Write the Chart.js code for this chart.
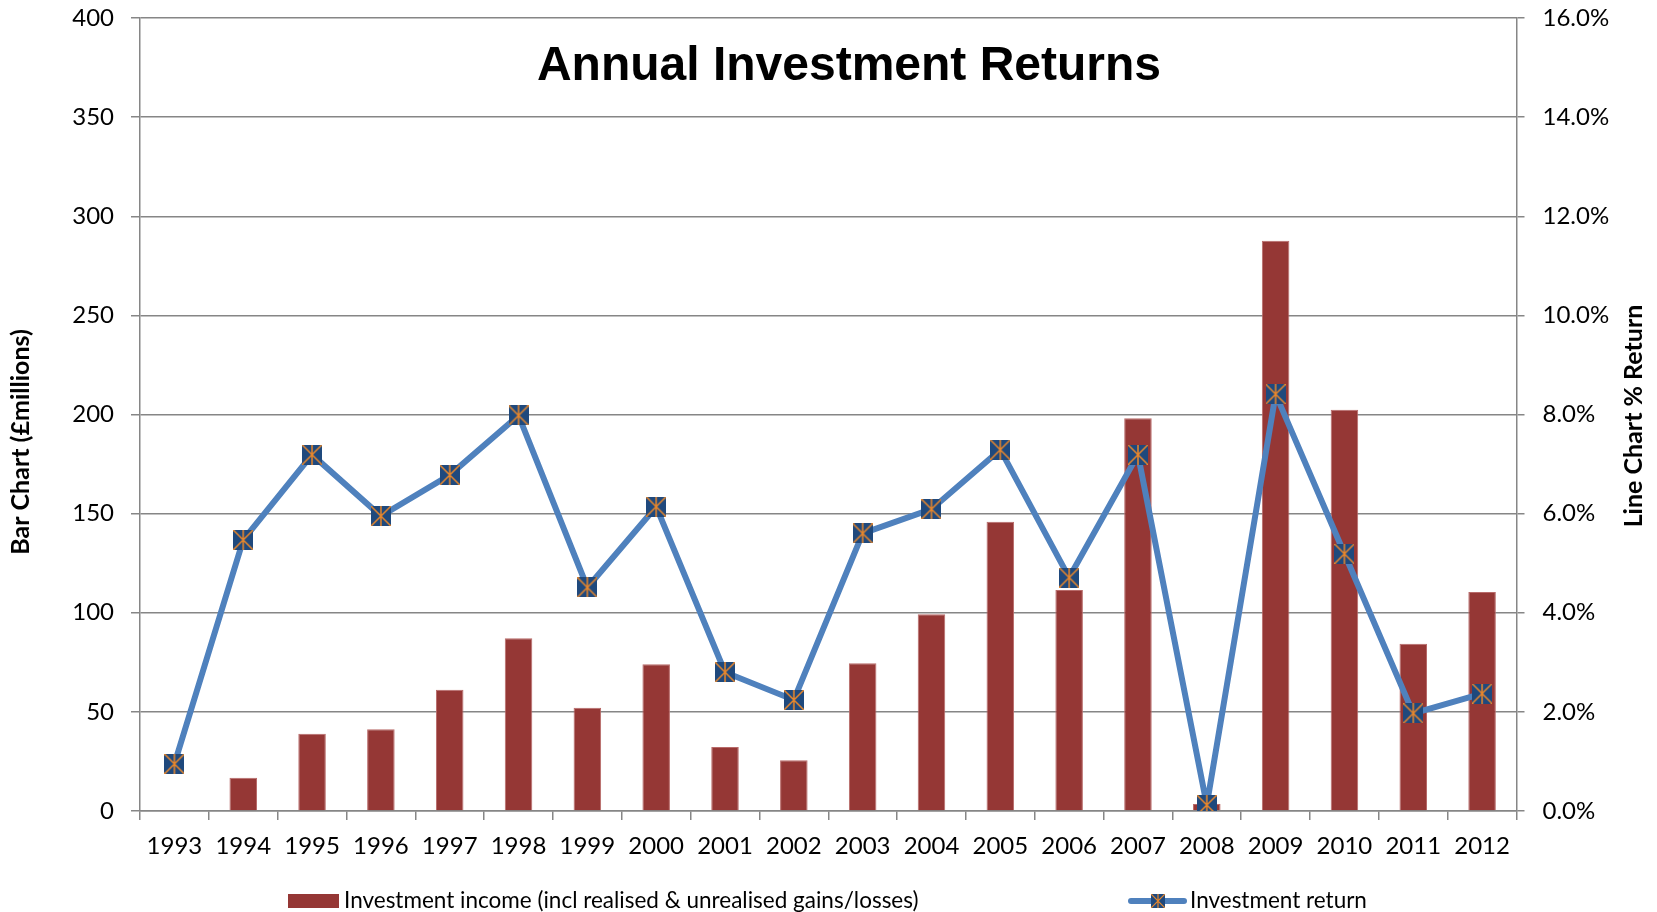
<!DOCTYPE html>
<html>
<head>
<meta charset="utf-8">
<script src="https://cdn.jsdelivr.net/npm/chart.js@4.4.0/dist/chart.umd.min.js"></script>
<style>
  html, body { margin: 0; padding: 0; background: #fff; }
  #wrap { width: 1657px; height: 912px; }
</style>
</head>
<body>
<div id="wrap"><canvas id="returnsChart" width="1657" height="912"></canvas></div>
<script>
// Data
const years = ['1993', '1994', '1995', '1996', '1997', '1998', '1999', '2000', '2001', '2002',
               '2003', '2004', '2005', '2006', '2007', '2008', '2009', '2010', '2011', '2012'];
const investmentIncome = [0.5, 16.8, 39, 41.2, 61.2, 87.1, 52.1, 74, 32.3, 25.6,
                          74.5, 99.2, 145.9, 111.5, 198.1, 3.5, 287.7, 202.4, 84.4, 110.5];
const investmentReturn = [0.95, 5.47, 7.19, 5.95, 6.78, 7.98, 4.51, 6.14, 2.80, 2.24,
                          5.60, 6.09, 7.29, 4.71, 7.19, 0.12, 8.41, 5.19, 1.97, 2.37];
const incomeTicks = [0, 50, 100, 150, 200, 250, 300, 350, 400];
const returnTicks = [0, 2, 4, 6, 8, 10, 12, 14, 16];

const chartTitle = 'Annual Investment Returns';
const leftAxisTitle = 'Bar Chart (£millions)';
const rightAxisTitle = 'Line Chart % Return';

const BAR_RED = '#953735';
const LINE_BLUE = '#4f81bd';
const GRID = '#868686';

Chart.defaults.font.family = 'Lato';
Chart.defaults.color = '#000';

// square marker with an orange asterisk, like Excel's star marker
function makeMarker(size) {
    const c = document.createElement('canvas');
    c.width = size;
    c.height = size;
    const g = c.getContext('2d');
    g.fillStyle = '#1f497d';
    g.fillRect(0, 0, size, size);
    g.strokeStyle = '#e8872c';
    g.lineWidth = Math.max(1.2, size / 13);
    g.beginPath();
    g.moveTo(size / 2, 0); g.lineTo(size / 2, size);
    g.moveTo(0, 0); g.lineTo(size, size);
    g.moveTo(size, 0); g.lineTo(0, size);
    g.stroke();
    return c;
}
const plotMarker = makeMarker(20);
const legendMarker = makeMarker(14);

// no label overflow padding above/below the value axes
function trimPadding(scale) {
    scale.paddingTop = 14;
    scale.paddingBottom = 14;
}

// title, axis titles and legend drawn by hand (Excel style)
const extrasPlugin = {
    id: 'extras',
    afterDraw(chart) {
        const ctx = chart.ctx;

        ctx.save();
        ctx.fillStyle = '#000';
        ctx.textAlign = 'center';
        ctx.textBaseline = 'middle';
        ctx.font = 'bold 48px "Liberation Sans"';
        ctx.fillText(chartTitle, 849, 67);

        ctx.font = 'bold 25px Lato';
        ctx.save();
        ctx.translate(21, 442);
        ctx.rotate(-Math.PI / 2);
        ctx.fillText(leftAxisTitle, 0, 0);
        ctx.restore();

        ctx.save();
        ctx.translate(1634, 416);
        ctx.rotate(-Math.PI / 2);
        ctx.fillText(rightAxisTitle, 0, 0);
        ctx.restore();
        ctx.restore();

        ctx.save();
        const ly = 901;
        ctx.font = '22.5px Lato';
        ctx.textAlign = 'left';
        ctx.textBaseline = 'middle';
        // bar item
        ctx.fillStyle = BAR_RED;
        ctx.fillRect(288, ly - 7, 51, 14);
        ctx.fillStyle = '#000';
        ctx.fillText(chart.data.datasets[1].label, 344, ly);
        // line item
        ctx.strokeStyle = LINE_BLUE;
        ctx.lineWidth = 6;
        ctx.lineCap = 'round';
        ctx.beginPath();
        ctx.moveTo(1131, ly);
        ctx.lineTo(1184, ly);
        ctx.stroke();
        ctx.drawImage(legendMarker, 1158 - 7, ly - 7);
        ctx.fillText(chart.data.datasets[0].label, 1190, ly);
        ctx.restore();
    }
};

const ctxReturns = document.getElementById('returnsChart').getContext('2d');
const returnsChart = new Chart(ctxReturns, {
    type: 'bar',
    data: {
        labels: years,
        datasets: [{
            type: 'line',
            label: 'Investment return',
            data: investmentReturn,
            yAxisID: 'y1',
            borderColor: LINE_BLUE,
            borderWidth: 6,
            tension: 0,
            pointStyle: plotMarker,
            pointRadius: 10,
            pointHoverRadius: 10,
            order: 0
        }, {
            type: 'bar',
            label: 'Investment income (incl realised & unrealised gains/losses)',
            data: investmentIncome,
            yAxisID: 'y',
            backgroundColor: BAR_RED,
            borderColor: '#b86a69',
            borderWidth: 1,
            barPercentage: 0.40,
            categoryPercentage: 1,
            order: 1
        }]
    },
    options: {
        responsive: false,
        animation: false,
        layout: {
            padding: { top: 18, left: 2, right: 6, bottom: 0 }
        },
        plugins: {
            legend: { display: false },
            tooltip: { enabled: false },
            title: { display: false }
        },
        scales: {
            x: {
                grid: {
                    offset: true,
                    drawOnChartArea: false,
                    tickLength: 9,
                    color: GRID,
                    lineWidth: 1.5
                },
                border: { color: GRID, width: 1.5 },
                ticks: {
                    color: '#000',
                    font: { size: 24 },
                    padding: 12,
                    maxRotation: 0,
                    autoSkip: false
                },
                afterFit(scale) { scale.height = 101; }
            },
            y: {
                position: 'left',
                min: incomeTicks[0],
                max: incomeTicks[incomeTicks.length - 1],
                afterBuildTicks(scale) { scale.ticks = incomeTicks.map(v => ({ value: v })); },
                grid: { color: GRID, lineWidth: 1.5, tickLength: 9 },
                border: { color: GRID, width: 1.5 },
                ticks: { color: '#000', font: { size: 24 }, padding: 17 },
                afterFit(scale) { scale.width = 138; trimPadding(scale); }
            },
            y1: {
                position: 'right',
                min: returnTicks[0],
                max: returnTicks[returnTicks.length - 1],
                afterBuildTicks(scale) { scale.ticks = returnTicks.map(v => ({ value: v })); },
                grid: { drawOnChartArea: false, color: GRID, lineWidth: 1.5, tickLength: 8 },
                border: { color: GRID, width: 1.5 },
                ticks: {
                    color: '#000',
                    font: { size: 24 },
                    padding: 18,
                    callback: v => v.toFixed(1) + '%'
                },
                afterFit(scale) { scale.width = 134.5; trimPadding(scale); }
            }
        }
    },
    plugins: [extrasPlugin]
});
</script>
</body>
</html>
